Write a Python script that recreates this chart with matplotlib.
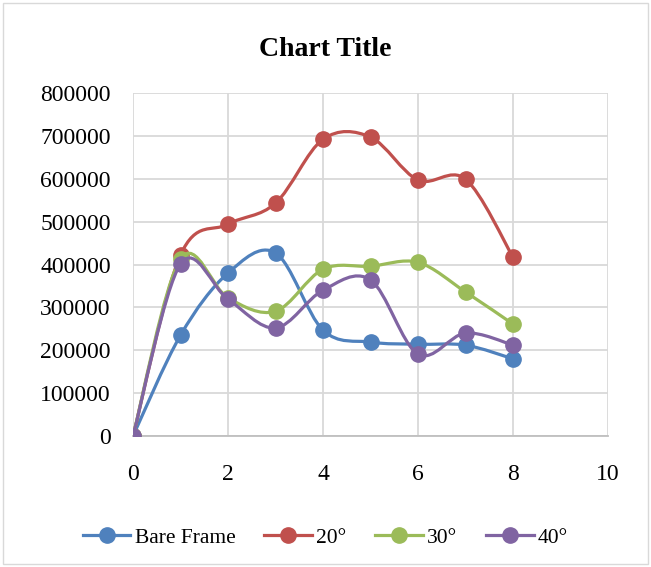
import matplotlib
matplotlib.use('Agg')
from matplotlib import pyplot as plt
from matplotlib.path import Path
from matplotlib.patches import PathPatch, Rectangle
from matplotlib.lines import Line2D

plt.rcParams['font.family'] = ['Liberation Serif', 'DejaVu Serif']

x = [0, 1, 2, 3, 4, 5, 6, 7, 8]
bare_frame = [0, 235000, 380000, 427000, 247000, 219000, 214000, 212000, 180000]
deg20 = [0, 422000, 494000, 543000, 692000, 697000, 597000, 599000, 417000]
deg30 = [0, 413000, 322000, 291000, 389000, 396000, 405000, 336000, 261000]
deg40 = [0, 401000, 319000, 252000, 340000, 364000, 191000, 240000, 212000]

series = [
    ('Bare Frame', bare_frame, '#4F81BD'),
    ('20°', deg20, '#C0504D'),
    ('30°', deg30, '#9BBB59'),
    ('40°', deg40, '#8064A2'),
]


def smooth_path(xs, ys):
    # catmull-rom style bezier, like excel's smoothed lines
    pts = list(zip(xs, ys))
    n = len(pts)
    verts = [pts[0]]
    codes = [Path.MOVETO]
    for i in range(n - 1):
        p0 = pts[i - 1] if i > 0 else pts[i]
        p1 = pts[i]
        p2 = pts[i + 1]
        p3 = pts[i + 2] if i + 2 < n else pts[i + 1]
        c1 = (p1[0] + (p2[0] - p0[0]) / 6, p1[1] + (p2[1] - p0[1]) / 6)
        c2 = (p2[0] - (p3[0] - p1[0]) / 6, p2[1] - (p3[1] - p1[1]) / 6)
        verts += [c1, c2, p2]
        codes += [Path.CURVE4] * 3
    return Path(verts, codes)


fig = plt.figure(figsize=(6.51, 5.67), dpi=100)
fig.patches.append(Rectangle((0.005, 0.005), 0.99, 0.99, transform=fig.transFigure,
                             fill=False, edgecolor='#d9d9d9', linewidth=1))
ax = fig.add_axes([0.2043, 0.231, 0.7297, 0.605])

handles = []
for k, (name, ys, col) in enumerate(series):
    patch = PathPatch(smooth_path(x, ys), fill=False, edgecolor=col,
                      linewidth=2.3, zorder=3 + 2 * k, capstyle='round',
                      joinstyle='round')
    ax.add_patch(patch)
    ax.plot(x, ys, linestyle='None', marker='o', markersize=11,
            color=col, zorder=4 + 2 * k)
    handles.append(Line2D([], [], color=col, linewidth=2.3, marker='o',
                          markersize=11, label=name))

ax.set_xlim(0, 10)
ax.set_ylim(0, 800000)
ax.set_xticks(range(0, 11, 2))
ax.set_yticks(range(0, 800001, 100000))
ax.grid(True, color='#d9d9d9', linewidth=1.3)
ax.set_axisbelow(True)
for side in ['top', 'right', 'left']:
    ax.spines[side].set_visible(False)
ax.spines['bottom'].set_color('#bfbfbf')
ax.spines['bottom'].set_linewidth(1.3)
ax.tick_params(length=0, labelsize=17)
ax.tick_params(axis='y', pad=16)
ax.tick_params(axis='x', pad=20)

fig.suptitle('Chart Title', fontsize=20, fontweight='bold', y=0.934)

fig.legend(handles=handles, loc='center', bbox_to_anchor=(0.5, 0.052), ncol=4,
           frameon=False, fontsize=15.5, handlelength=2.2, columnspacing=1.35,
           handletextpad=0.2)

fig.savefig('out.png', dpi=100)
